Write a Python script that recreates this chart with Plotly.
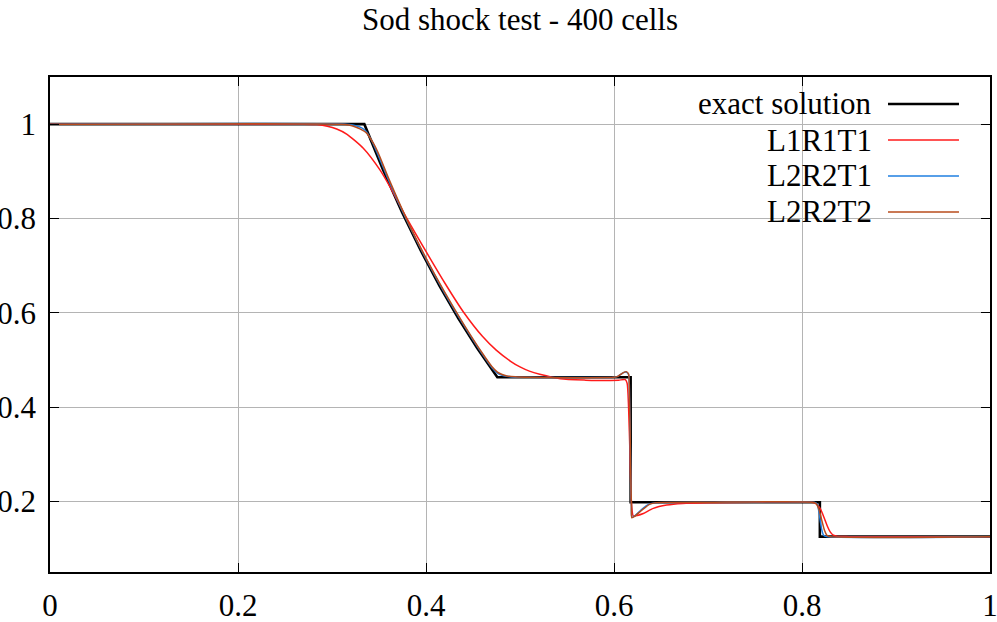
import plotly.graph_objects as go

# ---------------- data ----------------
exact_x = [0.0, 0.3344, 0.3544, 0.3744, 0.3944, 0.4144, 0.4344, 0.4544, 0.4759,
           0.6177, 0.6177, 0.819, 0.819, 1.0]
exact_y = [1.0, 1.0, 0.903, 0.814, 0.732, 0.657, 0.588, 0.525, 0.463,
           0.463, 0.198, 0.198, 0.125, 0.125]

l1r1t1_x = [0.0, 0.27, 0.284, 0.295, 0.305, 0.3156, 0.3333, 0.351, 0.3617, 0.378,
            0.40, 0.42, 0.44, 0.46, 0.475, 0.49, 0.50, 0.51, 0.521, 0.543, 0.57,
            0.59, 0.605, 0.612, 0.614, 0.6155, 0.617, 0.6185, 0.6205, 0.625, 0.6312,
            0.6418, 0.656, 0.673, 0.70, 0.75, 0.810, 0.815, 0.819, 0.822, 0.8245,
            0.827, 0.830, 0.8333, 0.838, 0.85, 1.0]
l1r1t1_y = [1.0, 1.0, 0.999, 0.9957, 0.9897, 0.979, 0.949, 0.903, 0.867, 0.806,
            0.730, 0.663, 0.601, 0.550, 0.520, 0.497, 0.485, 0.476, 0.4695, 0.460, 0.457,
            0.456, 0.457, 0.458, 0.450, 0.400, 0.300, 0.200, 0.169, 0.170, 0.174,
            0.185, 0.192, 0.1955, 0.197, 0.198, 0.198, 0.195, 0.186, 0.173, 0.160,
            0.147, 0.135, 0.128, 0.1255, 0.125, 0.125]

l2r2t1_x = [0.0, 0.315, 0.322, 0.3262, 0.3305, 0.3351, 0.342, 0.35, 0.36, 0.38,
            0.40, 0.42, 0.44, 0.46, 0.47, 0.476, 0.481, 0.486, 0.495, 0.51, 0.60,
            0.604, 0.607, 0.610, 0.613, 0.6155, 0.6165, 0.6175, 0.6185, 0.619, 0.622,
            0.629, 0.637, 0.645, 0.70, 0.813, 0.816, 0.818, 0.8195, 0.821, 0.823,
            0.826, 1.0]
l2r2t1_y = [1.0, 1.0, 0.998, 0.996, 0.993, 0.987, 0.966, 0.930, 0.882, 0.794,
            0.714, 0.641, 0.574, 0.512, 0.484, 0.472, 0.467, 0.465, 0.463, 0.463, 0.463,
            0.465, 0.469, 0.473, 0.474, 0.469, 0.420, 0.300, 0.190, 0.166, 0.169,
            0.182, 0.194, 0.197, 0.198, 0.198, 0.195, 0.178, 0.158, 0.140, 0.128,
            0.125, 0.125]

l2r2t2_x = [0.0, 0.31, 0.318, 0.325, 0.3298, 0.3369, 0.3444, 0.35, 0.36, 0.38,
            0.40, 0.42, 0.44, 0.46, 0.47, 0.476, 0.481, 0.486, 0.495, 0.51, 0.60,
            0.604, 0.607, 0.610, 0.6131, 0.6155, 0.6165, 0.6175, 0.6185, 0.619, 0.622,
            0.6295, 0.6383, 0.645, 0.70, 0.812, 0.815, 0.818, 0.821, 0.824, 0.8265,
            0.83, 1.0]
l2r2t2_y = [1.0, 1.0, 0.998, 0.994, 0.990, 0.981, 0.958, 0.935, 0.886, 0.796,
            0.716, 0.643, 0.576, 0.514, 0.486, 0.474, 0.469, 0.466, 0.464, 0.463, 0.463,
            0.465, 0.469, 0.473, 0.475, 0.470, 0.420, 0.300, 0.190, 0.165, 0.168,
            0.181, 0.194, 0.197, 0.198, 0.198, 0.195, 0.183, 0.160, 0.138, 0.128,
            0.125, 0.125]

series_names = ["exact solution", "L1R1T1", "L2R2T1", "L2R2T2"]
series_colors = ["#000000", "#ff1a1a", "#1f7fe0", "#b84c1c"]
series_widths = [2.6, 1.5, 1.5, 1.5]
series_shapes = ["linear", "spline", "spline", "spline"]

x_tick_vals = [0, 0.2, 0.4, 0.6, 0.8, 1]
x_tick_text = ["0", "0.2", "0.4", "0.6", "0.8", "1"]
y_tick_vals = [0.2, 0.4, 0.6, 0.8, 1]
y_tick_text = ["0.2", "0.4", "0.6", "0.8", "1"]

title_text = "Sod shock test - 400 cells"

# ---------------- figure ----------------
FONT = "Liberation Serif"
fig = go.Figure()

all_x = [exact_x, l1r1t1_x, l2r2t1_x, l2r2t2_x]
all_y = [exact_y, l1r1t1_y, l2r2t1_y, l2r2t2_y]
for xs, ys, nm, col, w, shp in zip(all_x, all_y, series_names, series_colors,
                                   series_widths, series_shapes):
    line = dict(color=col, width=w, shape=shp)
    if shp == "spline":
        line["smoothing"] = 0.6
    fig.add_trace(go.Scatter(x=xs, y=ys, mode="lines", name=nm,
                             line=line, showlegend=False))

# opaque key box (gnuplot style) over the grid, below the data
fig.add_shape(type="rect", xref="paper", yref="paper", x0=0.6415, x1=1.0,
              y0=0.693, y1=1.0, fillcolor="white", line=dict(width=0),
              layer="between")

# key: right-aligned text with line sample on the right
row_y = [0.9455, 0.8727, 0.80, 0.7273]
for nm, col, w, ry in zip(series_names, series_colors, series_widths, row_y):
    fig.add_annotation(x=0.8765, y=ry, xref="paper", yref="paper", text=nm,
                       showarrow=False, xanchor="right", yanchor="middle",
                       font=dict(family=FONT, size=31, color="black"))
    fig.add_shape(type="line", xref="paper", yref="paper", x0=0.8915, x1=0.967,
                  y0=ry, y1=ry, line=dict(color=col, width=w))

axis_common = dict(ticks="inside", ticklen=9, tickwidth=1, tickcolor="black",
                   showline=True, linecolor="black", linewidth=1.5, mirror="ticks",
                   showgrid=True, gridcolor="#b4b4b4", gridwidth=1, zeroline=False,
                   automargin=False, ticklabeloverflow="allow",
                   tickfont=dict(family=FONT, size=31, color="black"))

fig.update_xaxes(range=[0, 1], tickvals=x_tick_vals, ticktext=x_tick_text,
                 ticklabelstandoff=5, **axis_common)
fig.update_yaxes(range=[0.05, 1.1], tickvals=y_tick_vals, ticktext=y_tick_text,
                 ticklabelstandoff=6, **axis_common)

fig.update_layout(
    width=997, height=622, autosize=False,
    margin=dict(l=50, r=7, t=77, b=50, autoexpand=False),
    paper_bgcolor="white", plot_bgcolor="white",
    font=dict(family=FONT, size=31, color="black"),
    title=dict(text=title_text, x=0.5, xref="paper", xanchor="center",
               y=1 - 19 / 622, yref="container", yanchor="middle",
               font=dict(family=FONT, size=31, color="black")),
)

fig.write_html("out.html")
